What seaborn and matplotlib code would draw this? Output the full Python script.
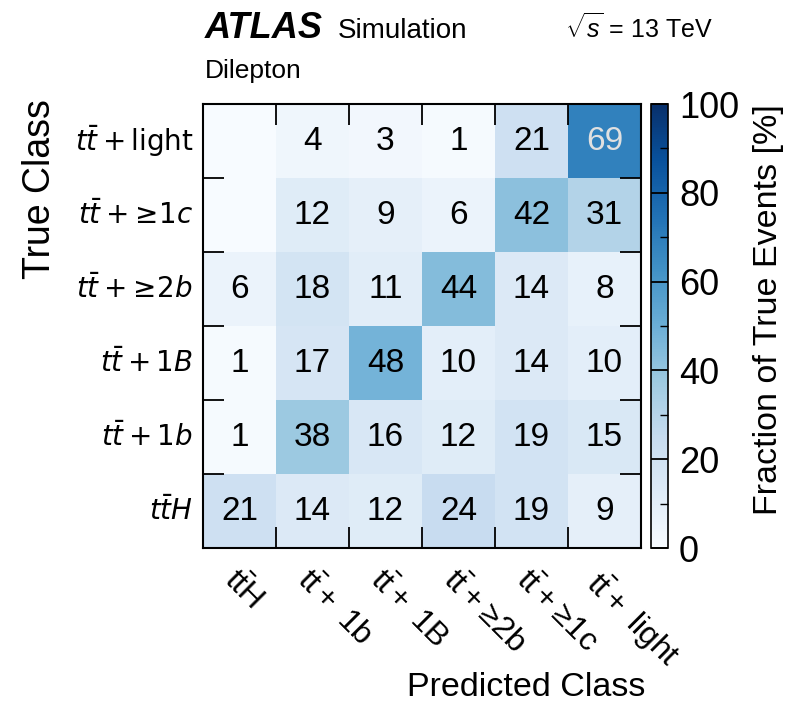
import numpy as np
import pandas as pd
import matplotlib
matplotlib.use("Agg")
import matplotlib.pyplot as plt
from matplotlib.ticker import MultipleLocator
import seaborn as sns

plt.rcParams["font.family"] = ["Liberation Sans", "DejaVu Sans"]
plt.rcParams["mathtext.fontset"] = "custom"
plt.rcParams["mathtext.rm"] = "Liberation Sans"
plt.rcParams["mathtext.it"] = "Liberation Sans:italic"
plt.rcParams["mathtext.bf"] = "Liberation Sans:bold"

# Class names (rows: true class, top to bottom; columns: predicted class)
true_labels = [r"$t\bar{t} + \mathrm{light}$", r"$t\bar{t} + \!{\geq}\!1c$",
               r"$t\bar{t} + \!{\geq}\!2b$", r"$t\bar{t} + 1B$",
               r"$t\bar{t} + 1b$", r"$t\bar{t}H$"]
pred_labels = [r"$\mathrm{t\bar{t}H}$", r"$\mathrm{t\bar{t}+\ 1b}$",
               r"$\mathrm{t\bar{t}+\ 1B}$", r"$\mathrm{t\bar{t}+\!{\geq}\!2b}$",
               r"$\mathrm{t\bar{t}+\!{\geq}\!1c}$", r"$\mathrm{t\bar{t}+\ light}$"]

# Fraction of true events [%] per predicted class
row_ttlight = [0, 4, 3, 1, 21, 69]
row_tt1c = [0, 12, 9, 6, 42, 31]
row_tt2b = [6, 18, 11, 44, 14, 8]
row_tt1B = [1, 17, 48, 10, 14, 10]
row_tt1b = [1, 38, 16, 12, 19, 15]
row_ttH = [21, 14, 12, 24, 19, 9]

values = np.array([row_ttlight, row_tt1c, row_tt2b, row_tt1B, row_tt1b, row_ttH])
df = pd.DataFrame(values, index=true_labels, columns=pred_labels)
annot = np.where(values > 0, values.astype(int).astype(str), "")

fig = plt.figure(figsize=(7.87, 7.16), dpi=100)
pos = [0.2579, 0.2346, 0.5565, 0.6201]
ax = fig.add_axes(pos)
cax = fig.add_axes([0.8272, 0.2346, 0.0216, 0.6201])

sns.heatmap(df, ax=ax, cbar_ax=cax, cmap="Blues", vmin=0, vmax=100,
            annot=annot, fmt="", annot_kws={"fontsize": 24},
            cbar_kws={"label": "Fraction of True Events [%]"})

for t in ax.texts:
    txt = t.get_text()
    if txt and int(txt) > 60:
        t.set_color("#e0e0e0")
    else:
        t.set_color("black")

# Frame around the matrix
for sp in ax.spines.values():
    sp.set_visible(True)
    sp.set_linewidth(1.5)
    sp.set_color("black")

n = values.shape[0]
ax.tick_params(which="major", length=0)
ax.set_yticklabels(true_labels, rotation=0, fontsize=20,
                   math_fontfamily="dejavusans")
ax.set_xticklabels(pred_labels, rotation=-45, fontsize=23,
                   ha="left", va="top", rotation_mode="anchor")
ax.tick_params(axis="y", which="major", pad=7)
ax.tick_params(axis="x", which="major", pad=12)

ax.set_ylabel("True Class", fontsize=27, labelpad=12, y=1.01, ha="right")
ax.set_xlabel("Predicted Class", fontsize=24.5, ha="right", va="top")
ax.xaxis.set_label_coords(1.01, -0.28)

# Transparent overlay carrying the in-pointing ticks at cell boundaries
ov = fig.add_axes(pos, label="cell-boundary ticks")
ov.set_xlim(0, n)
ov.set_ylim(n, 0)
ov.set_xticks(np.arange(1, n))
ov.set_yticks(np.arange(1, n))
ov.tick_params(direction="in", length=15, width=1.3, color="black",
               top=True, bottom=True, left=True, right=True,
               labelbottom=False, labelleft=False,
               labeltop=False, labelright=False)
ov.patch.set_visible(False)
for sp in ov.spines.values():
    sp.set_visible(False)
ov.set_zorder(ax.get_zorder() + 1)

# Colorbar styling
cax.yaxis.set_major_locator(MultipleLocator(20))
cax.yaxis.set_minor_locator(MultipleLocator(10))
cax.tick_params(which="major", direction="in", length=12, width=1.3,
                color="black", labelsize=26, right=True, left=False, pad=8)
cax.tick_params(which="minor", direction="in", length=6, width=1.0,
                color="black", right=True, left=False)
cax.set_ylabel("Fraction of True Events [%]", fontsize=24.5, labelpad=10,
               y=1.0, ha="right")
cbar = ax.collections[0].colorbar
cbar.outline.set_visible(True)
cbar.outline.set_linewidth(1.2)
cbar.outline.set_edgecolor("black")

# Header labels
fig.text(205 / 787, 1 - 38 / 716, "ATLAS", fontsize=26, fontweight="bold",
         fontstyle="italic", ha="left", va="baseline")
fig.text(338 / 787, 1 - 38 / 716, "Simulation", fontsize=20,
         ha="left", va="baseline")
fig.text(565 / 787, 1 - 38 / 716, r"$\sqrt{s}$ = 13 TeV", fontsize=18,
         ha="left", va="baseline")
fig.text(205 / 787, 1 - 78 / 716, "Dilepton", fontsize=19,
         ha="left", va="baseline")

fig.savefig("out.png", dpi=100)
